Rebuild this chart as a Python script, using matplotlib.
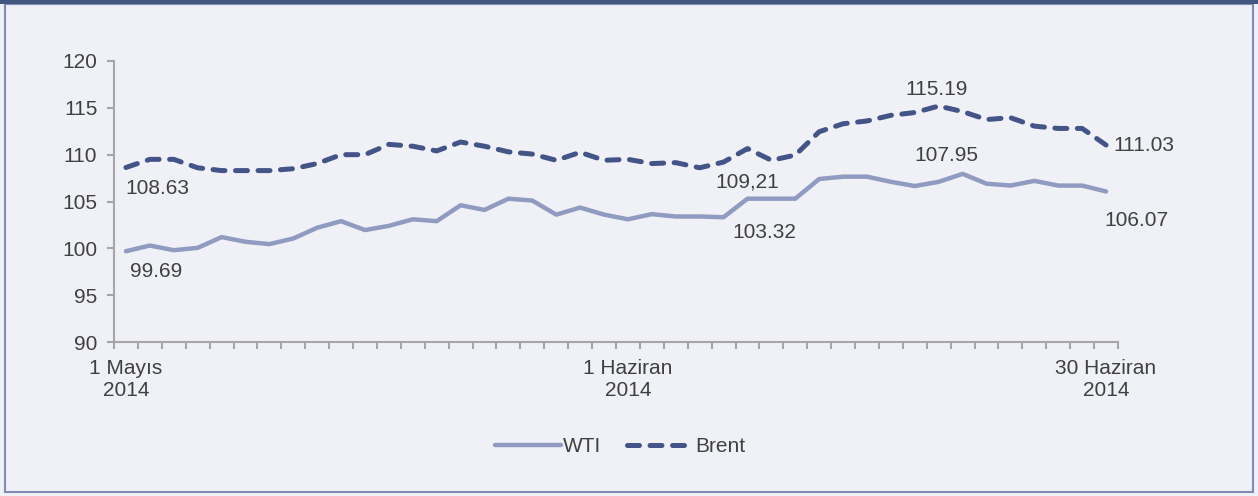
import matplotlib.pyplot as plt
import numpy as np
from matplotlib.patches import Rectangle

plt.rcParams['font.family'] = ['Liberation Sans', 'DejaVu Sans']

# daily prices, 1 May - 30 June 2014 (42 trading days)
wti = [99.69, 100.3, 99.8, 100.05, 101.2, 100.7, 100.45, 101.05, 102.2, 102.9,
       101.95, 102.4, 103.1, 102.9, 104.6, 104.1, 105.3, 105.1, 103.6, 104.35,
       103.6, 103.1, 103.65, 103.4, 103.4, 103.32, 105.3, 105.3, 105.3, 107.4,
       107.65, 107.65, 107.1, 106.65, 107.1, 107.95, 106.9, 106.7, 107.2, 106.7,
       106.7, 106.07]
brent = [108.63, 109.5, 109.5, 108.6, 108.3, 108.3, 108.3, 108.5, 109.05, 110.0,
         110.0, 111.1, 110.9, 110.4, 111.35, 110.9, 110.3, 110.06, 109.4, 110.25,
         109.4, 109.5, 109.05, 109.15, 108.6, 109.21, 110.65, 109.4, 109.95, 112.45,
         113.3, 113.6, 114.2, 114.5, 115.19, 114.6, 113.75, 113.95, 113.05, 112.8,
         112.8, 111.03]
xlabels = {0: "1 Mayıs\n2014", 21: "1 Haziran\n2014", 41: "30 Haziran\n2014"}
# (index, series, text, dx px, dy px)
notes = [(0, 'brent', "108.63", 31, -21), (0, 'wti', "99.69", 30, -20),
         (25, 'brent', "109,21", 24, -20), (25, 'wti', "103.32", 41, -15),
         (34, 'brent', "115.19", -2, 17), (35, 'wti', "107.95", -16, 18),
         (41, 'brent', "111.03", 38, 0), (41, 'wti', "106.07", 30, -29)]

bg = '#eff1f6'
txt = '#404040'
axcol = '#a6a6a6'
c_wti = '#8f9bc0'
c_brent = '#435488'
fs = 15

fig = plt.figure(figsize=(12.58, 4.96), dpi=100, facecolor=bg)
W, H = 1258, 496
# frame
fig.patches.append(Rectangle((5 / W, 4 / H), 1248 / W, 488 / H, transform=fig.transFigure,
                             fill=False, edgecolor='#7d8bb5', lw=1.5))
fig.patches.append(Rectangle((0, 1 - 4 / H), 1, 4 / H, transform=fig.transFigure,
                             facecolor='#44557f', edgecolor='none'))

ax = fig.add_axes([114 / W, (H - 342) / H, (1118 - 114) / W, (342 - 61) / H])
ax.set_facecolor(bg)
n = len(wti)
x = np.arange(n)
ax.plot(x, wti, color=c_wti, lw=3.2, label='WTI', solid_capstyle='round')
ax.plot(x, brent, color=c_brent, lw=3.6, label='Brent', linestyle=(0, (2.4, 2.1)),
        dash_capstyle='round')

ax.set_xlim(-0.5, n - 0.5)
ax.set_ylim(90, 120)
ax.set_yticks(np.arange(90, 121, 5))
ax.set_xticks(np.arange(-0.5, n, 1.0))
ax.set_xticklabels([])
ax.set_xticks(list(xlabels.keys()), list(xlabels.values()), minor=True)
ax.tick_params(axis='x', which='minor', length=0, pad=12)
ax.tick_params(axis='both', which='major', colors=axcol, length=5, width=1.5,
               labelcolor=txt, labelsize=fs)
ax.tick_params(axis='x', which='minor', labelcolor=txt, labelsize=fs)
ax.tick_params(axis='y', pad=7)
for s in ['top', 'right']:
    ax.spines[s].set_visible(False)
for s in ['left', 'bottom']:
    ax.spines[s].set_color(axcol)
    ax.spines[s].set_linewidth(1.5)

series = {'wti': wti, 'brent': brent}
for i, key, t, dx, dy in notes:
    ax.annotate(t, xy=(i, series[key][i]), xytext=(dx, dy), textcoords='offset pixels',
                ha='center', va='center', fontsize=fs, color=txt)

fig.legend(loc='center', bbox_to_anchor=(620 / W, 1 - 447 / H), ncol=2, frameon=False,
           fontsize=fs, handlelength=3.2, handletextpad=0.1, columnspacing=1.2,
           labelcolor=txt)

fig.savefig('out.png', dpi=100, facecolor=bg)
